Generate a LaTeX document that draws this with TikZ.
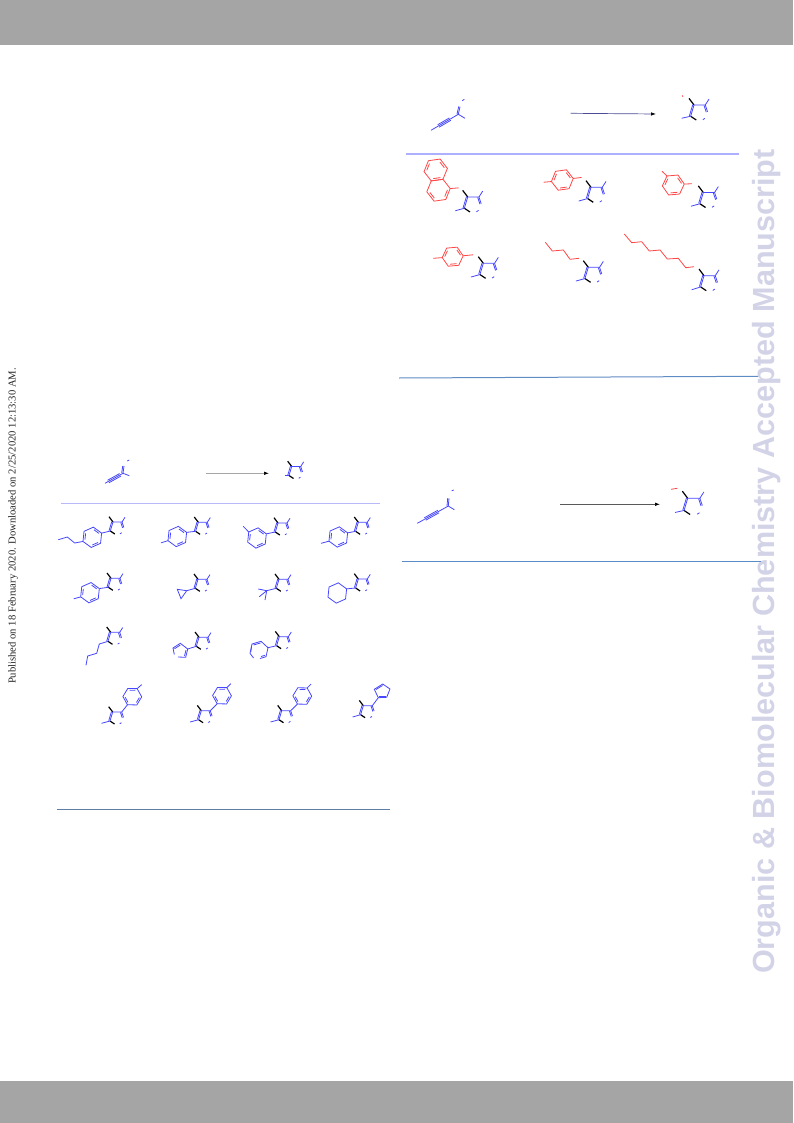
\documentclass[tikz,border=0pt]{standalone}
\usepackage{fontspec}
\setmainfont{Liberation Serif}
\newfontfamily\wmfont{Liberation Sans}
\usetikzlibrary{calc,arrows.meta}
\definecolor{bl}{RGB}{70,70,255}
\definecolor{rd}{RGB}{255,70,70}
\definecolor{barg}{RGB}{165,165,165}
\definecolor{wm}{RGB}{211,211,232}
\definecolor{ruleA}{RGB}{185,185,250}
\definecolor{ruleB}{RGB}{95,125,165}
\definecolor{ruleC}{RGB}{175,175,255}
\definecolor{ruleD}{RGB}{95,140,195}
\definecolor{ruleE}{RGB}{90,140,200}
\tikzset{
  bondb/.style={draw=bl,line width=0.8pt},
  bondr/.style={draw=rd,line width=0.8pt},
  wedgek/.style={draw=black,line width=1.2pt},
  rxn/.style={draw=#1,line width=0.7pt,-{Latex[length=5pt,width=3.5pt,black]}},
  rulea/.style={draw=#1,line width=1pt}
}
\def\cs{1}
% isoxazole-like core: #1,#2 = C4, #3 = name
\newcommand\coreB[3]{%
  \begin{scope}[shift={(#1,#2)},scale=\cs]
    \coordinate (#3-c4) at (0,0);
    \coordinate (#3-c5) at (-2.7,9);
    \coordinate (#3-c3) at (9,0);
    \coordinate (#3-n) at (10.8,5.4);
    \coordinate (#3-t) at (-4,-5.3);
    \coordinate (#3-l) at (1.8,12);
    \coordinate (#3-m) at (12,-4.7);
    \coordinate (#3-o1) at (7,11.8);
    \coordinate (#3-o2) at (8.7,10.7);
  \end{scope}
  \draw[wedgek] (#3-t) -- (#3-c4);
  \draw[wedgek] (#3-c5) -- (#3-l);
  \draw[bondb] (#3-c5) -- (#3-c4) -- (#3-c3) -- (#3-n);
  \draw[bondb] ($(#3-c5)!1.3pt!90:(#3-c4)$) -- ($(#3-c4)!1.3pt!-90:(#3-c5)$);
  \draw[bondb] ($(#3-c3)!1.3pt!-90:(#3-n)$) -- ($(#3-n)!1.3pt!90:(#3-c3)$);
  \draw[bondb] (#3-o1) -- (#3-o2);
}
\newcommand\core[3]{\coreB{#1}{#2}{#3}\draw[bondb] (#3-c3) -- (#3-m);}
% hexagon: x,y,rot,radius,name,style
\newcommand\hexr[6]{%
  \begin{scope}[shift={(#1,#2)}]
    \foreach \i in {1,...,6}{
      \coordinate (#5-\i) at ({-(#3+60*(\i-1))}:#4);
      \coordinate (#5-i\i) at ({-(#3+60*(\i-1))}:#4*0.8);
    }
  \end{scope}
  \draw[#6] (#5-1)--(#5-2)--(#5-3)--(#5-4)--(#5-5)--(#5-6)--cycle;
}
\newcommand\dbl[4]{\draw[#4] ($(#1-i#2)!.12!(#1-i#3)$) -- ($(#1-i#3)!.12!(#1-i#2)$);}
\newcommand\aryl[6]{\hexr{#1}{#2}{#3}{#4}{#5}{#6}\dbl{#5}{1}{2}{#6}\dbl{#5}{3}{4}{#6}\dbl{#5}{5}{6}{#6}}
\newcommand\trip[3]{%
  \draw[#3] ($(#1)!1.4pt!90:(#2)$) -- ($(#2)!1.4pt!-90:(#1)$);
  \draw[#3] ($(#1)!1.4pt!-90:(#2)$) -- ($(#2)!1.4pt!90:(#1)$);
}
\begin{document}
\begin{tikzpicture}[x=1pt,y=-1pt]
\useasboundingbox (0,0) rectangle (793,1123);
\fill[barg] (0,0) rectangle (793,45);
\fill[barg] (0,1081) rectangle (793,1123);
\node[rotate=90,anchor=center,text=black!85,inner sep=0,font=\fontsize{10.63pt}{12pt}\selectfont] (pub) at (13,526) {Published on 18 February 2020. Downloaded on 2/25/2020 12:13:30 AM.};
\node[rotate=90,anchor=center,text=wm,inner sep=0,font=\wmfont\bfseries\fontsize{30.6pt}{34pt}\selectfont] (wmk) at (767,561.5) {Organic \& Biomolecular Chemistry Accepted Manuscript};

% ---------- scheme 1 ----------
\coordinate (a1) at (105,483.3);
\coordinate (a2) at (123,473.3);
\coordinate (a3) at (129.3,475.7);
\coordinate (a4) at (124,466);
\coordinate (a5) at (127.3,461);
\coordinate (a6) at (129.3,460);
\draw[bondb] (a1) -- (a2) -- (a3);
\coordinate (a1t) at ($(a1)!.18!(a2)$); \coordinate (a2t) at ($(a1)!.85!(a2)$);
\trip{a1t}{a2t}{bondb}
\draw[bondb] (a2) -- (a4);
\draw[bondb] ($(a2)!1.3pt!90:(a4)$) -- ($(a4)!1.3pt!-90:(a2)$);
\draw[bondb] (a5) -- (a6);
\coordinate (a7) at (206,473.3);
\coordinate (a8) at (269,473.3);
\draw[rxn=black!35] (a7) -- (a8);
\core{291.7}{466.5}{pa}
\draw[bondb] (pa-c5) -- ++(-4,0);
\coordinate (r1a) at (61,503.3); \coordinate (r1b) at (380,503.3);
\draw[ruleA,line width=0.9pt] (r1a) -- (r1b);

% row 1
\core{113}{522}{p1}
\aryl{92.3}{537.3}{24}{10.2}{h1}{bondb}
\draw[bondb] (p1-c5) -- (h1-1);
\coordinate (h1a) at (74.7,543); \coordinate (h1b) at (67.3,537); \coordinate (h1c) at (58.3,539.7);
\draw[bondb] (h1-4) -- (h1a) -- (h1b) -- (h1c);

\core{198.3}{522.3}{p2}
\aryl{177.3}{536.5}{24}{10.2}{h2}{bondb}
\draw[bondb] (p2-c5) -- (h2-1);
\draw[bondb] (h2-4) -- ++(-7,2.2);

\core{278}{523}{p3}
\aryl{257}{538}{24}{10.2}{h3}{bondb}
\draw[bondb] (p3-c5) -- (h3-1);
\draw[bondb] (h3-3) -- ++(-5.5,-5.7);

\core{358.3}{522.3}{p4}
\aryl{338.3}{537}{24}{10.2}{h4}{bondb}
\draw[bondb] (p4-c5) -- (h4-1);
\draw[bondb] (h4-4) -- ++(-8,2.2);

% row 2
\core{111}{578.3}{p5}
\aryl{90}{592.7}{24}{10.2}{h5}{bondb}
\draw[bondb] (p5-c5) -- (h5-1);
\draw[bondb] (h5-4) -- ++(-7,2);

\core{198}{579.3}{p6}
\coordinate (c1) at (186.7,590.7); \coordinate (c2) at (177.3,589.3); \coordinate (c3) at (181,598.7);
\draw[bondb] (p6-c5) -- (c1);
\draw[bondb] (c1) -- (c2) -- (c3) -- cycle;

\core{279}{579.3}{p7}
\coordinate (t0) at (266.7,590.7); \coordinate (t1) at (258.3,589); \coordinate (t2) at (259.3,596.7); \coordinate (t3) at (265,600);
\draw[bondb] (p7-c5) -- (t0) -- (t1);
\draw[bondb] (t0) -- (t2);
\draw[bondb] (t0) -- (t3);

\core{358.3}{579}{p8}
\hexr{337.3}{593}{24}{10.2}{h8}{bondb}
\draw[bondb] (p8-c5) -- (h8-1);

% row 3
\core{110.7}{632.3}{p9}
\coordinate (b1) at (99.3,644); \coordinate (b2) at (96.7,653.3); \coordinate (b3) at (87.7,656); \coordinate (b4) at (86,665.3);
\draw[bondb] (p9-c5) -- (b1) -- (b2) -- (b3) -- (b4);

\core{199}{637.3}{p10}
\coordinate (f1) at (187.7,649); \coordinate (f2) at (180.3,643.3); \coordinate (f3) at (173,648); \coordinate (f4) at (174.3,654.5); \coordinate (f5) at (178,657); \coordinate (f6) at (185.7,657.3);
\draw[bondb] (p10-c5) -- (f1) -- (f2) -- (f3) -- (f4);
\draw[bondb] (f5) -- (f6) -- (f1);
\draw[bondb] (180.3,645) -- (174.5,648.8);
\draw[bondb] (186,650) -- (184.5,656);

\core{279.3}{636.7}{p11}
\coordinate (u1) at (268,647.7); \coordinate (u2) at (261,641.3); \coordinate (u3) at (252,644); \coordinate (u4) at (250,653.3); \coordinate (u5) at (253.5,658); \coordinate (u6) at (260,658.5); \coordinate (u7) at (266,656.7);
\draw[bondb] (p11-c5) -- (u1) -- (u2) -- (u3) -- (u4) -- (u5);
\draw[bondb] (u6) -- (u7) -- (u1);
\draw[bondb] (260.5,643) -- (253.5,645);
\draw[bondb] (261,656.5) -- (265,655.3);
\draw[bondb] (251.5,647) -- (250.8,652);

% row 4
\coreB{112.7}{712}{p12}
\aryl{132.3}{696.7}{59}{9.4}{h12}{bondb}
\draw[bondb] (p12-c3) -- (h12-4);
\draw[bondb] (h12-1) -- ++(4.5,-4);
\draw[bondb] (p12-c5) -- ++(-8.5,2.3);

\coreB{201.3}{710.7}{p13}
\aryl{222}{695.7}{59}{9.4}{h13}{bondb}
\draw[bondb] (p13-c3) -- (h13-4);
\draw[bondb] (h13-1) -- ++(4,-4);
\draw[bondb] (p13-c5) -- ++(-8.5,2.3);

\coreB{281.7}{710.7}{p14}
\aryl{302.3}{696}{59}{9.4}{h14}{bondb}
\draw[bondb] (p14-c3) -- (h14-4);
\draw[bondb] (h14-1) -- ++(4,-4);
\draw[bondb] (p14-c5) -- ++(-8.5,2.3);

\coreB{363.3}{705.7}{p15}
\coordinate (g1) at (378.3,697.7); \coordinate (g2) at (374.3,689.3); \coordinate (g3) at (382.7,684); \coordinate (g4) at (390,689); \coordinate (g5) at (386.7,697.3);
\draw[bondb] (p15-c3) -- (g1) -- (g2) -- (g3) -- (g4) -- (g5) -- (g1);
\draw[bondb] (376,689.5) -- (382.5,685.5);
\draw[bondb] (379,696) -- (385.5,696);
\draw[bondb] (p15-c5) -- ++(-8,2.3);

\coordinate (r2a) at (57,809); \coordinate (r2b) at (390,809);
\draw[rulea=ruleB] (r2a) -- (r2b);

% ---------- scheme 2 ----------
\def\cs{1.25}
\coordinate (d1) at (431,130.3);
\coordinate (d2) at (458.3,114.3);
\coordinate (d3) at (465,118.3);
\coordinate (d4) at (460,106.7);
\coordinate (d5) at (462.3,100.7);
\coordinate (d6) at (464.3,99.3);
\draw[bondb] (d1) -- (d2) -- (d3);
\coordinate (d1t) at ($(d1)!.27!(d2)$); \coordinate (d2t) at ($(d1)!.7!(d2)$);
\trip{d1t}{d2t}{bondb}
\draw[bondb] (d2) -- (d4);
\draw[bondb] ($(d2)!1.3pt!90:(d4)$) -- ($(d4)!1.3pt!-90:(d2)$);
\draw[bondb] (d5) -- (d6);
\coordinate (d7) at (570.7,113.3);
\coordinate (d8) at (656,114);
\draw[rxn=black!60!blue!70!white] (d7) -- (d8);
\core{694}{105}{pb}
\draw[bondb] (pb-c5) -- ++(-9,2);
\coordinate (d9) at (682,95.5); \coordinate (d10) at (683,96.5);
\draw[bondr] (d9) -- (d10);
\coordinate (r3a) at (406,153.7); \coordinate (r3b) at (739,153.7);
\draw[ruleC,line width=1.8pt] (r3a) -- (r3b);

% naphthyl
\hexr{435.7}{170}{8}{11.8}{n1}{bondr}
\hexr{438.5}{190.2}{8}{11.8}{n2}{bondr}
\dbl{n1}{1}{2}{bondr}\dbl{n1}{3}{4}{bondr}\dbl{n1}{5}{6}{bondr}
\dbl{n2}{6}{1}{bondr}\dbl{n2}{4}{5}{bondr}
\draw[bondr] (n2-1) -- ++(8.3,-.7);
\core{467.7}{197}{q1c}
\draw[bondb] (q1c-c5) -- ++(-9,2.5);

\aryl{562.3}{180}{8}{11}{m2}{bondr}
\draw[bondr] (m2-4) -- ++(-7.7,.7);
\draw[bondr] (m2-1) -- ++(8.3,-1);
\core{591}{187.3}{q2c}
\draw[bondb] (q2c-c5) -- ++(-9,2.5);

\aryl{673.3}{185}{5}{11}{m3}{bondr}
\draw[bondr] (m3-1) -- ++(7.7,-.3);
\draw[bondr] (m3-3) -- ++(-5,-4.7);
\core{703.3}{192.5}{q3c}
\draw[bondb] (q3c-c5) -- ++(-9,2.5);

\aryl{452.7}{256.7}{5}{10.5}{m4}{bondr}
\draw[bondr] (m4-4) -- ++(-9,.7);
\draw[bondr] (m4-1) -- ++(10,-1);
\core{483.3}{263.3}{q4c}
\draw[bondb] (q4c-c5) -- ++(-9,2.5);

\coordinate (e1) at (545.3,242.3); \coordinate (e2) at (552.3,251); \coordinate (e3) at (563.3,250); \coordinate (e4) at (570,259.3); \coordinate (e5) at (579,258.3);
\draw[bondr] (e1) -- (e2) -- (e3) -- (e4) -- (e5);
\core{588.3}{267.3}{q5c}
\draw[bondb] (q5c-c5) -- ++(-9,2.5);

\coordinate (o1) at (624.3,234); \coordinate (o2) at (631.7,242.7); \coordinate (o3) at (641.7,241.7); \coordinate (o4) at (649.3,251); \coordinate (o5) at (660,250); \coordinate (o6) at (667.3,259); \coordinate (o7) at (678.3,258.3); \coordinate (o8) at (685.7,267.7); \coordinate (o9) at (694,266.7);
\draw[bondr] (o1) -- (o2) -- (o3) -- (o4) -- (o5) -- (o6) -- (o7) -- (o8) -- (o9);
\core{704}{275.7}{q6c}
\draw[bondb] (q6c-c5) -- ++(-9,2.8);

\coordinate (r4a) at (399,378); \coordinate (r4b) at (758,376.3);
\draw[rulea=ruleD] (r4a) -- (r4b);

% ---------- scheme 3 ----------
\def\cs{1.35}
\coordinate (k1) at (417.3,523.3);
\coordinate (k2) at (448.3,506);
\coordinate (k3) at (454.3,509.7);
\coordinate (k4) at (449,498.3);
\coordinate (k5) at (451.7,490.7);
\coordinate (k6) at (453.7,490);
\draw[bondb] (k1) -- (k2) -- (k3);
\coordinate (k1t) at ($(k1)!.25!(k2)$); \coordinate (k2t) at ($(k1)!.68!(k2)$);
\trip{k1t}{k2t}{bondb}
\draw[bondb] (k2) -- (k4);
\draw[bondb] ($(k2)!1.3pt!90:(k4)$) -- ($(k4)!1.3pt!-90:(k2)$);
\draw[bondb] (k5) -- (k6);
\coordinate (k7) at (560,504.3);
\coordinate (k8) at (660,504.3);
\draw[rxn=black!65] (k7) -- (k8);
\core{687.7}{498.3}{pc}
\draw[bondb] (pc-c5) -- ++(-9,2);
\coordinate (k9) at (671,489.3); \coordinate (k10) at (677.3,488.3);
\draw[bondr] (k9) -- (k10);
\coordinate (r5a) at (402,561); \coordinate (r5b) at (761,561);
\draw[rulea=ruleE] (r5a) -- (r5b);
\end{tikzpicture}
\end{document}
